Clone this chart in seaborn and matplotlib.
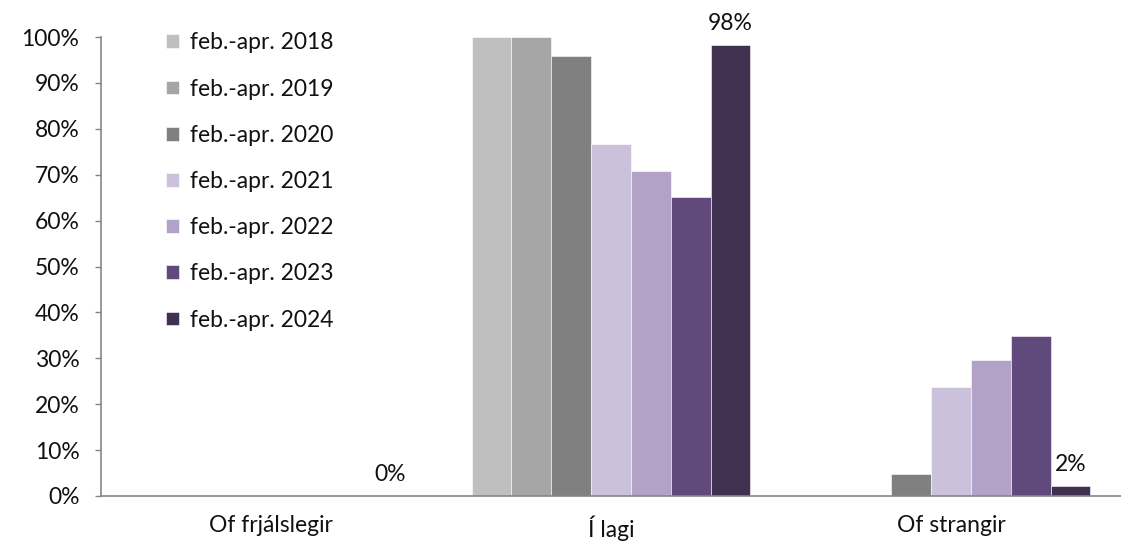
import numpy as np
import pandas as pd
import seaborn as sns
import matplotlib.pyplot as plt
from matplotlib.ticker import PercentFormatter

# Categories and series
categories = ['Of frjálslegir', 'Í lagi', 'Of strangir']
years = ['feb.-apr. 2018', 'feb.-apr. 2019', 'feb.-apr. 2020', 'feb.-apr. 2021',
         'feb.-apr. 2022', 'feb.-apr. 2023', 'feb.-apr. 2024']
values = {
    'feb.-apr. 2018': [0.0, 1.000, 0.0],
    'feb.-apr. 2019': [0.0, 1.000, 0.0],
    'feb.-apr. 2020': [0.0, 0.958, 0.048],
    'feb.-apr. 2021': [0.0, 0.767, 0.238],
    'feb.-apr. 2022': [0.0, 0.709, 0.296],
    'feb.-apr. 2023': [0.0, 0.652, 0.349],
    'feb.-apr. 2024': [0.0, 0.982, 0.022],
}
last_labels = ['0%', '98%', '2%']
colors = ['#BFBFBF', '#A6A6A6', '#808080', '#CCC1DA', '#B3A2C7', '#604A7B', '#403151']

# Long format table for seaborn
rows = []
for y in years:
    for c, v in zip(categories, values[y]):
        rows.append({'flokkur': c, 'tímabil': y, 'hlutfall': v})
df = pd.DataFrame(rows)

sns.set_style('white')
plt.rcParams['font.family'] = ['Lato', 'DejaVu Sans']
fs = 16.5

W, H = 1121, 542
fig = plt.figure(figsize=(W / 100, H / 100), dpi=100)
ax = fig.add_axes([101 / W, 46 / H, (W - 101) / W, (496 - 37) / H])

sns.barplot(data=df, x='flokkur', y='hlutfall', hue='tímabil', order=categories,
            hue_order=years, palette=colors, width=0.82, saturation=1,
            edgecolor='white', linewidth=0.4, ax=ax)

# Data labels on the 2024 series only
ax.bar_label(ax.containers[-1], labels=last_labels, padding=8, fontsize=fs, color='#111111')

ax.set_ylim(0, 1)
ax.set_xlim(-0.5, 2.5 - 12 / 344)
ax.yaxis.set_major_locator(plt.MultipleLocator(0.1))
ax.yaxis.set_major_formatter(PercentFormatter(1.0, decimals=0))
ax.set_xlabel('')
ax.set_ylabel('')

# category separators as minor ticks
ax.set_xticks([-0.5, 0.5, 1.5, 2.5], minor=True)
ax.tick_params(axis='x', which='major', length=0, pad=14, labelsize=fs, labelcolor='#111111')
ax.tick_params(axis='x', which='minor', length=5, width=1, color='#868686', direction='out')
ax.tick_params(axis='y', length=4.5, width=1, color='#868686', direction='out', pad=11,
               labelsize=fs, labelcolor='#111111', left=True)

for side in ['top', 'right']:
    ax.spines[side].set_visible(False)
for side in ['left', 'bottom']:
    ax.spines[side].set_color('#868686')
    ax.spines[side].set_linewidth(1.2)

leg = ax.legend(loc='upper left', bbox_to_anchor=(0.055, 1.03), frameon=False,
                fontsize=fs, handlelength=0.55, handleheight=0.55, handletextpad=0.5,
                labelspacing=1.1, borderaxespad=0)
for t in leg.get_texts():
    t.set_color('#111111')

fig.savefig('out.png', dpi=100)
